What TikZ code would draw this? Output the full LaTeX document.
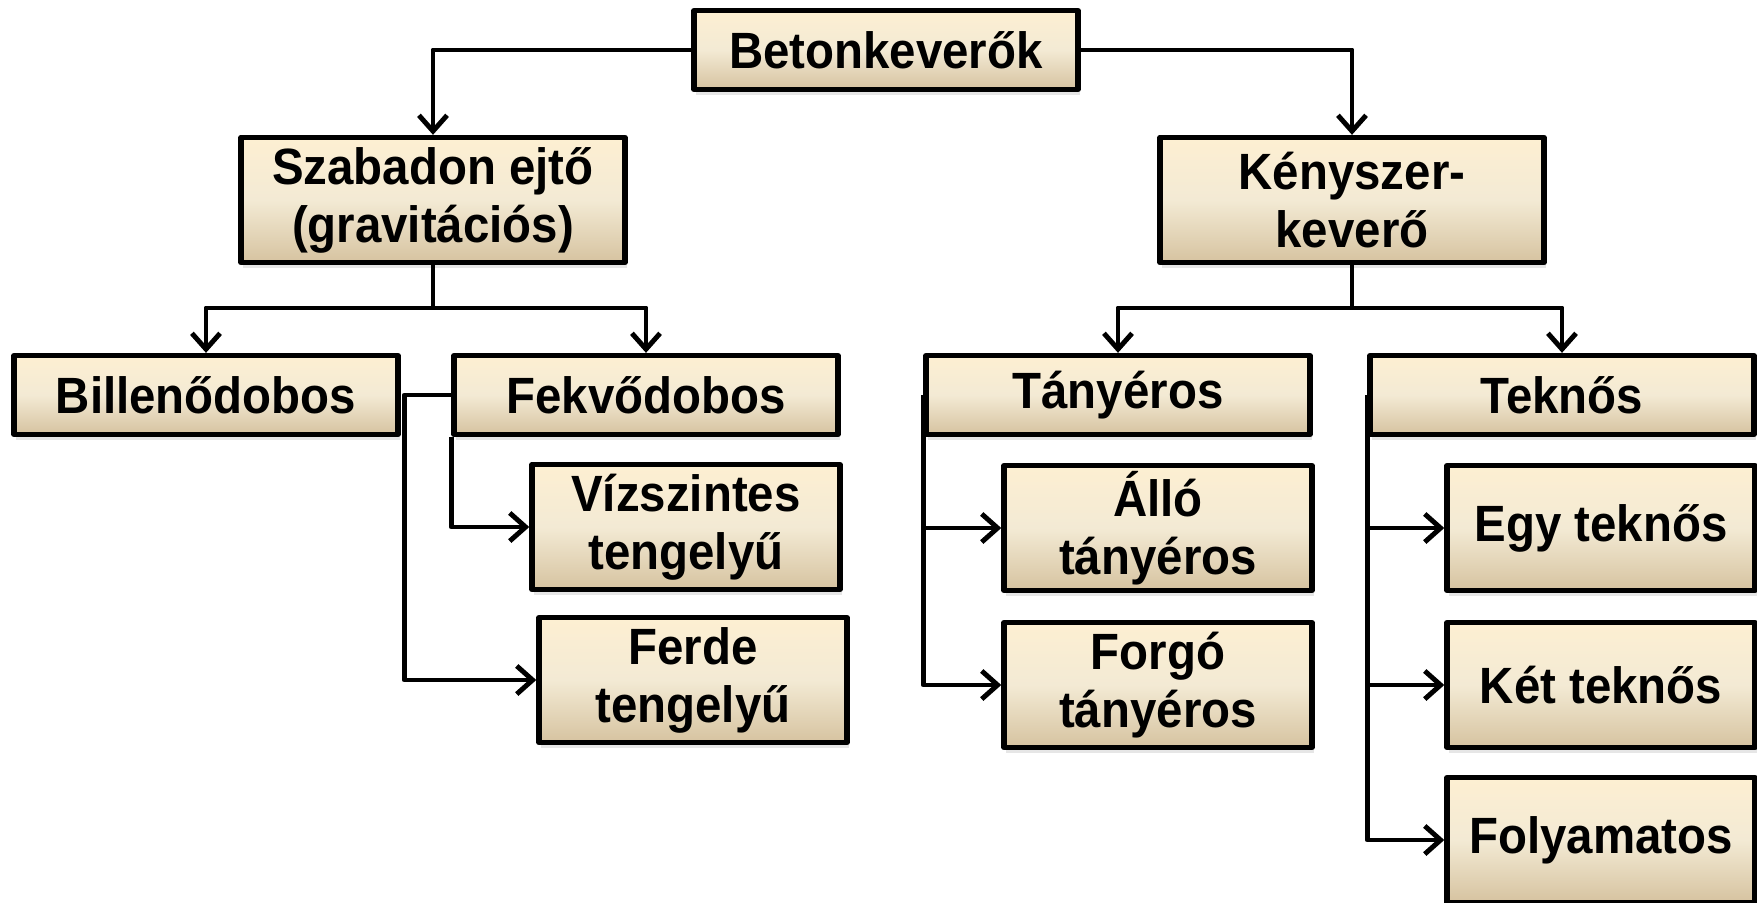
\documentclass[tikz,border=0pt]{standalone}
\usepackage{fontspec}
\setmainfont{Liberation Sans}[FakeStretch=0.93]
\usetikzlibrary{arrows.meta,shadows}
\definecolor{boxtop}{HTML}{FDEFD2}
\definecolor{boxmid}{HTML}{F3EAD4}
\definecolor{boxbot}{HTML}{D6C3A0}

\begin{document}
\begin{tikzpicture}[x=0.01cm,y=-0.01cm,>={Straight Barb[length=4.5pt,width=8pt]},
                    line width=1.4pt,line join=round]
  \tikzstyle{box}=[draw=black,line width=1.5pt,top color=boxtop,bottom color=boxbot,
                   middle color=boxmid,align=center,inner sep=0pt,
                   font=\fontsize{14.5}{16.5}\selectfont\bfseries,
                   minimum width=3.84cm,minimum height=0.79cm,
                   drop shadow={opacity=0.2,shadow xshift=0.6pt,shadow yshift=-1.6pt}]
  \tikzstyle{tall}=[minimum height=1.25cm]
  \tikzstyle{narrow}=[minimum width=3.08cm]

  \useasboundingbox (0,0) rectangle (1757,902);

  \node[box]             (beton) at (886,50)   {Betonkeverők};
  \node[box,tall]        (szab)  at (433,200)  {Szabadon ejtő\\(gravitációs)};
  \node[box,tall]        (keny)  at (1352,200) {Kényszer-\\keverő};
  \node[box]             (bill)  at (206,395)  {Billenődobos};
  \node[box]             (fekv)  at (646,395)  {Fekvődobos};
  \node[box]             (tany)  at (1118,395) {Tányéros};
  \node[box]             (tekn)  at (1562,395) {Teknős};
  \node[box,tall,narrow] (vizs)  at (686,527)  {Vízszintes\\tengelyű};
  \node[box,tall,narrow] (ferde) at (693,680)  {Ferde\\tengelyű};
  \node[box,tall,narrow] (allo)  at (1158,528) {Álló\\tányéros};
  \node[box,tall,narrow] (forgo) at (1158,685) {Forgó\\tányéros};
  \node[box,tall,narrow] (egy)   at (1601,528) {Egy teknős};
  \node[box,tall,narrow] (ket)   at (1601,685) {Két teknős};
  \node[box,tall,narrow] (foly)  at (1601,840) {Folyamatos};

  \coordinate (szabjoin) at (433,308);
  \coordinate (kenyjoin) at (1352,308);

  \draw[->] (beton) -| (szab);
  \draw[->] (beton) -| (keny);
  \draw     (szab) -- (szabjoin);
  \draw[->] (szabjoin) -| (bill);
  \draw[->] (szabjoin) -| (fekv);
  \draw     (keny) -- (kenyjoin);
  \draw[->] (kenyjoin) -| (tany);
  \draw[->] (kenyjoin) -| (tekn);

  \draw[->] (fekv.south west) |- (vizs.west);
  \draw[->] (fekv.west) -- ++(-47,0) |- (ferde.west);
  \draw[->] (tany.west) |- (allo.west);
  \draw[->] (tany.west) |- (forgo.west);
  \draw[->] (tekn.west) |- (egy.west);
  \draw[->] (tekn.west) |- (ket.west);
  \draw[->] (tekn.west) |- (foly.west);
\end{tikzpicture}
\end{document}
